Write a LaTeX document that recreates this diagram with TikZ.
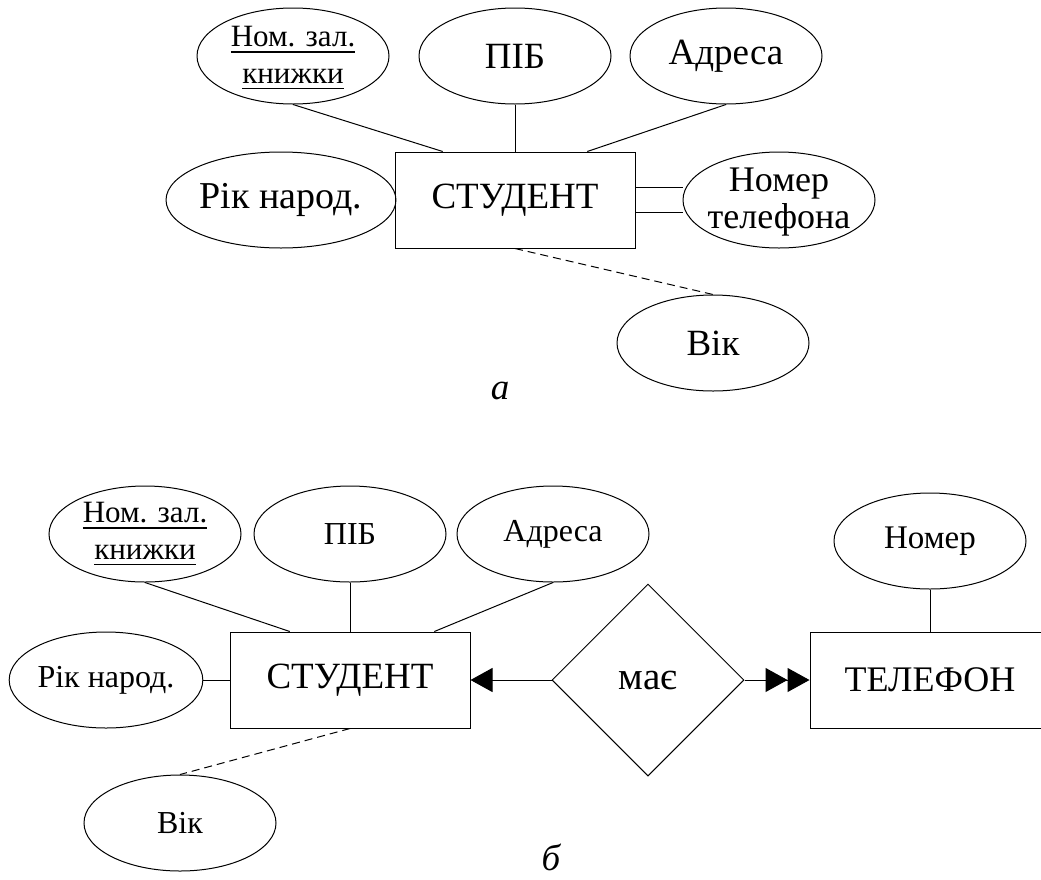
\documentclass[tikz,border=0pt]{standalone}
\usepackage{fontspec}
\setmainfont{Liberation Serif}
\newfontfamily\erfont{Liberation Serif}
\newcommand{\keyul}[1]{\vtop{\hbox{#1}\kern4pt\hrule height 1.6pt}}
\usetikzlibrary{arrows.meta, shapes.geometric, calc}

\begin{document}
\begin{tikzpicture}[x=1pt, y=-1pt, line width=1pt, font=\erfont,
  attr/.style={draw, ellipse, minimum width=192pt, minimum height=96pt, inner sep=0pt},
  entity/.style={draw, rectangle, minimum width=240pt, minimum height=96pt, inner sep=0pt},
  rel/.style={draw, diamond, minimum width=192pt, minimum height=192pt, inner sep=0pt},
  bigtxt/.style={font=\erfont\fontsize{37}{36}\selectfont},
  smalltxt/.style={font=\erfont\fontsize{32}{36}\selectfont},
  keytxt/.style={font=\erfont\fontsize{31}{37}\selectfont, align=center},
  enttxt/.style={font=\erfont\fontsize{37}{40}\selectfont},
  captxt/.style={font=\erfont\fontsize{37}{40}\selectfont\itshape, inner sep=0pt},
  tri/.tip={Triangle[length=22pt, width=24pt]}]
  \useasboundingbox (0,0) rectangle (1041,879);
  % a: attribute STUDENT
  \node[entity, enttxt] (std1) at (515,200) {СТУДЕНТ};
  \node[attr, label={[keytxt, yshift=-2pt]center:\keyul{Ном. зал.}\\\keyul{книжки}}] (nz1) at (293,56) {};
  \node[attr, bigtxt] (pib1) at (515,56) {ПІБ};
  \node[attr, bigtxt] (adr1) at (726,56) {Адреса};
  \node[attr, bigtxt, font=\erfont\fontsize{38}{36}\selectfont] (rik1) at (281,200) {Рік народ.};
  \node[attr, label={[bigtxt, font=\erfont\fontsize{36}{37}\selectfont, align=center, yshift=-2pt]center:Номер\\телефона}] (tel1) at (779,200) {};
  \node[attr, bigtxt] (vik1) at (713,343) {Вік};
  \draw (nz1.south) -- ($(std1.north west)!0.2!(std1.north east)$);
  \draw (pib1.south) -- (std1.north);
  \draw (adr1.south) -- ($(std1.north west)!0.8!(std1.north east)$);
  \draw (rik1.east) -- (std1.west);
  % multivalued attribute
  \draw ([yshift=13pt]std1.east) -- ([yshift=13pt]tel1.west);
  \draw ([yshift=-12pt]std1.east) -- ([yshift=-12pt]tel1.west);
  % derived attribute
  \draw[dash pattern=on 8pt off 5pt] (std1.south) -- (vik1.north);
  \node[captxt] (lbla) at (500,391) {а};

  % b: relationship STUDENT - PHONE
  \node[entity, enttxt] (std2) at (350,680) {СТУДЕНТ};
  \node[attr, label={[keytxt]center:\keyul{Ном. зал.}\\\keyul{книжки}}] (nz2) at (145,534) {};
  \node[attr, smalltxt] (pib2) at (350,534) {ПІБ};
  \node[attr, smalltxt] (adr2) at (553,534) {Адреса};
  \node[attr, smalltxt] (rik2) at (106,680) {Рік народ.};
  \node[attr, smalltxt] (vik2) at (180,823) {Вік};
  \node[rel, enttxt, font=\erfont\fontsize{39}{40}\selectfont] (has2) at (648,680) {має};
  \node[entity, enttxt, font=\erfont\fontsize{36}{40}\selectfont] (tel2) at (930,680) {ТЕЛЕФОН};
  \node[attr, smalltxt, font=\erfont\fontsize{33}{36}\selectfont] (num2) at (930,541) {Номер};
  \draw (nz2.south) -- ($(std2.north west)!0.25!(std2.north east)$);
  \draw (pib2.south) -- (std2.north);
  \draw (adr2.south) -- ($(std2.north west)!0.85!(std2.north east)$);
  \draw (rik2.east) -- (std2.west);
  \draw[dash pattern=on 8pt off 5pt] (std2.south) -- (vik2.north);
  \draw (num2.south) -- (tel2.north);
  % cardinality arrows
  \draw[-{tri}] (has2.west) -- (std2.east);
  \draw[-{tri[sep=0pt] tri}] (has2.east) -- (tel2.west);
  \node[captxt] (lblb) at (551,857) {б};
\end{tikzpicture}
\end{document}
